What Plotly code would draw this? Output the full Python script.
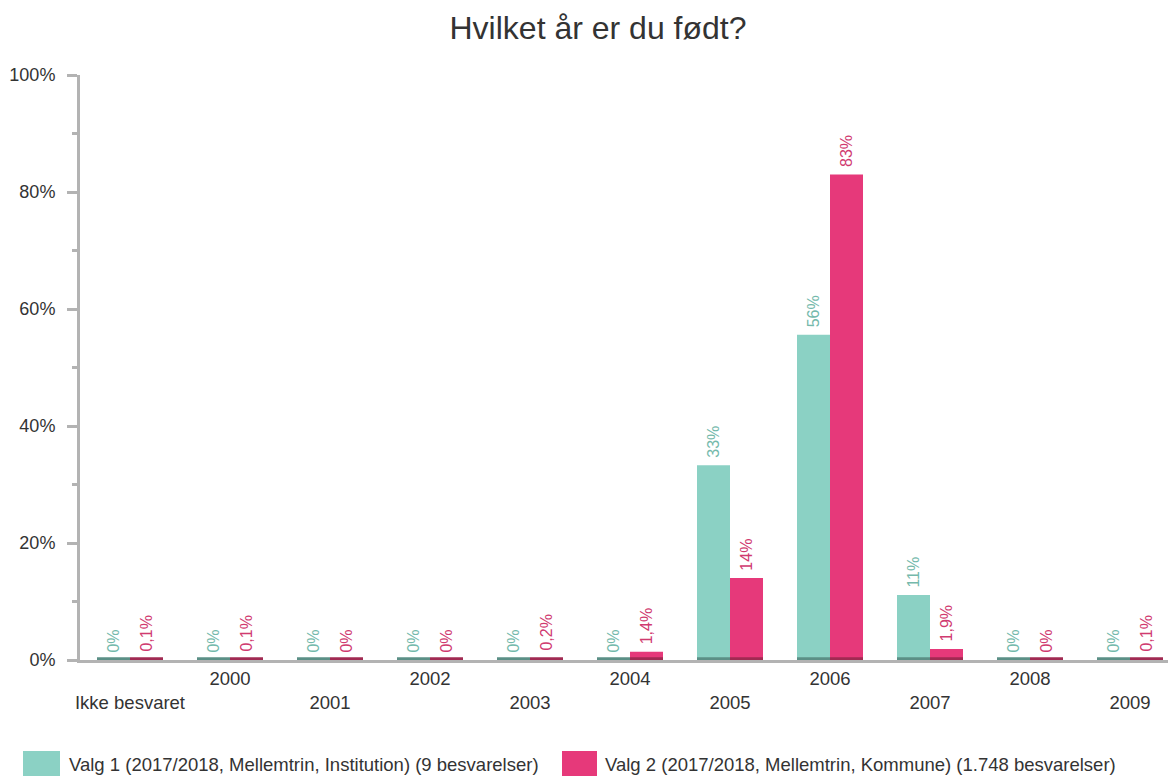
import plotly.graph_objects as go

categories = ["Ikke besvaret", "2000", "2001", "2002", "2003", "2004",
              "2005", "2006", "2007", "2008", "2009"]
valg1 = [0, 0, 0, 0, 0, 0, 33.3, 55.6, 11.1, 0, 0]
valg2 = [0.1, 0.1, 0, 0, 0.2, 1.4, 14, 83, 1.9, 0, 0.1]
series_names = ["Valg 1 (2017/2018, Mellemtrin, Institution) (9 besvarelser)",
                "Valg 2 (2017/2018, Mellemtrin, Kommune) (1.748 besvarelser)"]
y_ticks = [0, 20, 40, 60, 80, 100]

TEAL = "#8bd1c4"
PINK = "#e6397a"
TEAL_TXT = "#74b9ab"
PINK_TXT = "#d03a70"
TEAL_DARK = "#5b8f86"
PINK_DARK = "#a02a52"
AXIS = "#b3b3b3"
FONT = "Liberation Sans, Arial, sans-serif"

OFF = 8  # page body margin
W, H = 1176 - OFF, 776 - OFF
ML, MR, MT, MB = 80 - OFF, 0, 75 - OFF, 776 - 660


def fmt(v):
    if v == 0:
        s = "0%"
    elif v >= 10:
        s = f"{round(v)}%"
    else:
        s = f"{v:.1f}".replace(".", ",") + "%"
    return "\u00a0" + s  # small padding between bar top and rotated label


x = list(range(len(categories)))
ticktext = [c if i % 2 == 1 else "<br>" + c for i, c in enumerate(categories)]

fig = go.Figure()
for vals, name, col, tcol, grp in [(valg1, series_names[0], TEAL, TEAL_TXT, "a"),
                                   (valg2, series_names[1], PINK, PINK_TXT, "b")]:
    fig.add_trace(go.Bar(
        x=x, y=vals, name=name, offsetgroup=grp,
        marker=dict(color=col, line=dict(width=0)),
        text=[fmt(v) for v in vals], textposition="outside", textangle=-90,
        constraintext="none",
        textfont=dict(color=tcol, size=16, family=FONT), cliponaxis=False,
        showlegend=False,
    ))
# dark base stripes on each bar
for col, grp in [(TEAL_DARK, "a"), (PINK_DARK, "b")]:
    fig.add_trace(go.Bar(
        x=x, y=[0.45] * len(x), offsetgroup=grp,
        marker=dict(color=col, line=dict(width=0)),
        showlegend=False, hoverinfo="skip",
    ))

pw = W - ML - MR
ph = H - MT - MB


def px(xp):
    # xp in reference page pixels
    return (xp - OFF - ML) / pw


def py(yp):
    return (H - MB - (yp - OFF)) / ph


shapes = []
annotations = []
for (x0, x1, tx), col, name in [((23, 60, 67), TEAL, series_names[0]),
                                ((562, 597, 603), PINK, series_names[1])]:
    shapes.append(dict(type="rect", xref="paper", yref="paper",
                       x0=px(x0), x1=px(x1), y0=py(751), y1=py(776),
                       fillcolor=col, line=dict(width=0)))
    annotations.append(dict(xref="paper", yref="paper", x=px(tx), y=py(764),
                            xanchor="left", yanchor="middle", text=name,
                            showarrow=False,
                            font=dict(size=18.5, color="#333333", family=FONT)))

fig.update_layout(
    width=W, height=H,
    margin=dict(l=ML, r=MR, t=MT, b=MB),
    paper_bgcolor="white", plot_bgcolor="white",
    barmode="group", bargap=0.34, bargroupgap=0.0,
    title=dict(text="Hvilket år er du født?", x=(598 - OFF) / W, xanchor="center",
               y=1 - (28 - OFF) / H, yanchor="middle",
               font=dict(size=32, color="#333333", family=FONT)),
    font=dict(family=FONT, color="#333333"),
    shapes=shapes, annotations=annotations,
    showlegend=False,
    xaxis=dict(range=[-0.5, -0.5 + pw / 100.0], tickmode="array",
               tickvals=x, ticktext=ticktext, showgrid=False, zeroline=False,
               showline=True, linecolor=AXIS, linewidth=3, ticks="",
               layer="below traces",
               tickfont=dict(size=18.5, color="#333333", family=FONT)),
    yaxis=dict(range=[0, 100], tickmode="array", tickvals=y_ticks,
               ticktext=[f"{v}%" for v in y_ticks], showgrid=False,
               zeroline=False, showline=True, linecolor=AXIS, linewidth=3,
               ticks="outside", ticklen=10, tickwidth=3, tickcolor=AXIS,
               ticklabelstandoff=8,
               minor=dict(dtick=10, ticks="outside", ticklen=5, tickwidth=3,
                          tickcolor=AXIS),
               tickfont=dict(size=18, color="#333333", family=FONT)),
)

fig.write_html("out.html")
